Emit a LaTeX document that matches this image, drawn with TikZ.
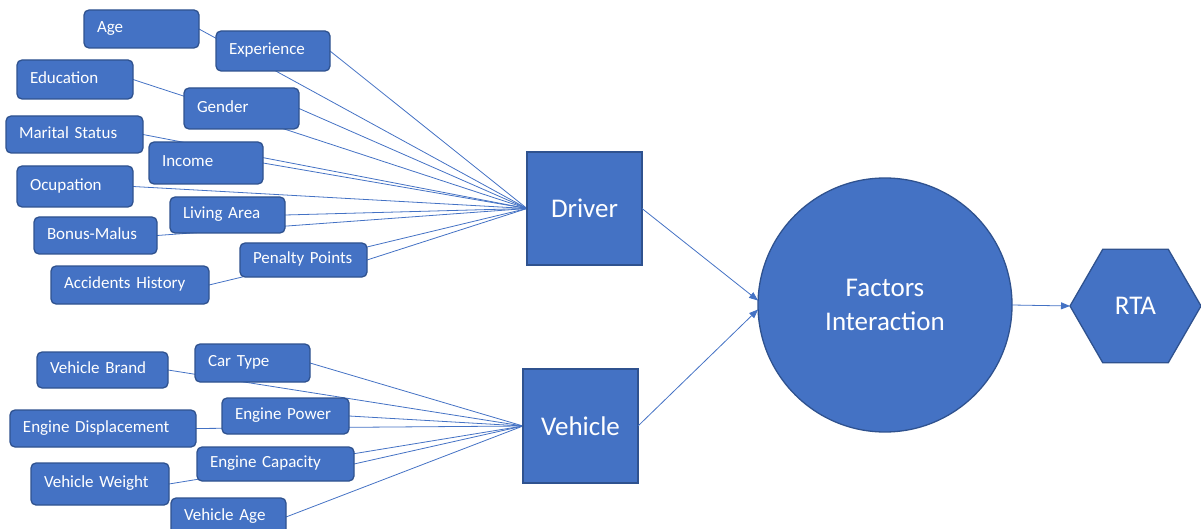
\documentclass[tikz,border=0pt]{standalone}
\usepackage{fontspec}
\setmainfont{Carlito}
\usetikzlibrary{shapes.geometric,arrows.meta}
\definecolor{obfill}{HTML}{4472C4}
\definecolor{obdraw}{HTML}{2F528F}
\definecolor{obline}{HTML}{4472C4}
\pgfdeclarelayer{background}
\pgfsetlayers{background,main}
\newcommand\factorbox[5]{\node[factor, minimum width=#3pt, minimum height=#4pt, text width=\the\dimexpr#3pt-26pt\relax] (#1) at (#2) {#5};}
\begin{document}
\begin{tikzpicture}[x=1pt,y=-1pt,
  factor/.style={draw=obdraw, fill=obfill, line width=1.3pt, rounded corners=5pt, text=white,
    font=\fontsize{17}{20}\selectfont, align=left, inner xsep=13pt, inner ysep=0pt, outer sep=0pt,
    text height=11.5pt, text depth=4pt},
  hub/.style={draw=obdraw, fill=obfill, line width=1.3pt, text=white,
    font=\fontsize{27}{34}\selectfont, outer sep=0pt, inner sep=0pt, align=center},
  link/.style={draw=obline, line width=0.8pt},
  flow/.style={link, -{Triangle[length=9pt,width=7pt]}}]
\useasboundingbox (0,0) rectangle (1201,529);

% driver factors
\factorbox{age}{141.5,29}{115}{38}{Age}
\factorbox{exp}{273,51}{114}{40}{Experience}
\factorbox{edu}{75,79.5}{116}{39}{Education}
\factorbox{gen}{241.5,108.5}{115}{41}{Gender}
\factorbox{mar}{74.5,134.5}{137}{37}{Marital Status}
\factorbox{inc}{206,163}{114}{42}{Income}
\factorbox{ocu}{75,186.5}{116}{41}{Ocupation}
\factorbox{liv}{227.5,215}{115}{36}{Living Area}
\factorbox{bon}{95.5,235.5}{123}{37}{Bonus-Malus}
\factorbox{pen}{303.5,260}{127}{34}{Penalty Points}
\factorbox{acc}{130,285}{158}{38}{Accidents History}

% vehicle factors
\factorbox{vbr}{102.5,370}{131}{36}{Vehicle Brand}
\factorbox{car}{252.5,363}{115}{38}{Car Type}
\factorbox{edi}{103,428.5}{186}{37}{Engine Displacement}
\factorbox{epo}{285.5,416}{127}{36}{Engine Power}
\factorbox{eca}{275.5,464}{157}{34}{Engine Capacity}
\factorbox{vwe}{100,484}{138}{42}{Vehicle Weight}
\factorbox{vag}{228.5,517}{115}{38}{Vehicle Age}

% hubs
\node[hub, minimum width=115pt, minimum height=113pt] (driver) at (584.5,208.5) {Driver};
\node[hub, minimum width=115pt, minimum height=114pt] (vehicle) at (580.5,426) {Vehicle};
\node[hub, circle, minimum size=254pt] (fi) at (885,305) {Factors\\Interaction};
\node[hub, regular polygon, regular polygon sides=6, regular polygon rotate=0, minimum size=131pt] (rta) at (1135.5,306) {RTA};

\begin{pgfonlayer}{background}
\foreach \n in {age,exp,edu,gen,mar,inc,ocu,liv,bon,pen,acc}
  \draw[link] (\n.east) -- (driver.west);
\foreach \n in {vbr,car,edi,epo,eca,vwe,vag}
  \draw[link] (\n.east) -- (vehicle.west);
\end{pgfonlayer}

\draw[flow] (driver.east) -- (fi.178);
\draw[flow] (vehicle.east) -- (fi.182);
\draw[flow] (fi.east) -- (rta.west);
\end{tikzpicture}
\end{document}
